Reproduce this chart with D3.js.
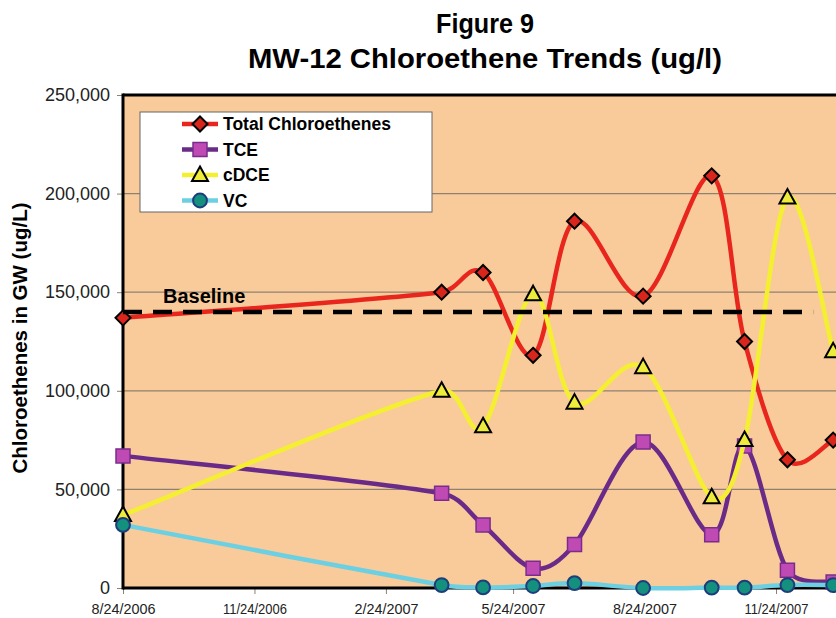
<!DOCTYPE html>
<html>
<head>
<meta charset="utf-8">
<script src="https://cdn.jsdelivr.net/npm/d3@7"></script>
<style>
  body { margin: 0; background: #fff; }
  svg { display: block; font-family: "Liberation Sans", Arial, sans-serif; }
</style>
</head>
<body>
<div id="chart"></div>
<script>
// Sampling dates and series values (ug/L).
var sampleDates = ["8/24/2006", "4/4/2007", "5/3/2007", "6/7/2007", "7/6/2007",
                   "8/23/2007", "10/10/2007", "11/2/2007", "12/2/2007", "1/3/2008"];
var totalValues = [137000, 150000, 160000, 118000, 186000, 148000, 209000, 125000, 65000, 75000];
var tceValues   = [67000, 48000, 32000, 10000, 22000, 74000, 27000, 72000, 9000, 3000];
var cdceValues  = [37000, 100000, 82000, 149000, 94000, 112000, 46000, 75000, 198000, 120000];
var vcValues    = [32000, 1500, 300, 1000, 2500, 0, 200, 200, 1500, 1500];

var baselineDates  = ["8/24/2006", "12/20/2007"];
var baselineValues = [140000, 140000];

var xTickDates = ["8/24/2006", "11/24/2006", "2/24/2007", "5/24/2007", "8/24/2007", "11/24/2007"];
var yTickValues = [0, 50000, 100000, 150000, 200000, 250000];

var seriesNames = ["Total Chloroethenes", "TCE", "cDCE", "VC"];

var width = 836, height = 618;
var plotLeft = 123, plotTop = 95, plotBottom = 588;

var parse = d3.utcParse("%m/%d/%Y");
var fmtDate = d3.utcFormat("%-m/%-d/%Y");

var svg = d3.select("#chart").append("svg")
  .attr("width", width)
  .attr("height", height);

// Scales. The chart runs on past the right edge of the picture.
var x = d3.scaleUtc()
  .domain([parse("8/24/2006"), parse("11/24/2007")])
  .range([plotLeft, 776]);
var y = d3.scaleLinear()
  .domain([0, 250000])
  .range([plotBottom, plotTop]);

// Titles.
svg.append("text")
  .attr("x", 485).attr("y", 33)
  .attr("text-anchor", "middle")
  .attr("font-weight", "bold").attr("font-size", 27)
  .attr("textLength", 98).attr("lengthAdjust", "spacingAndGlyphs")
  .text("Figure 9");
svg.append("text")
  .attr("x", 485).attr("y", 68)
  .attr("text-anchor", "middle")
  .attr("font-weight", "bold").attr("font-size", 27)
  .attr("textLength", 474).attr("lengthAdjust", "spacingAndGlyphs")
  .text("MW-12 Chloroethene Trends (ug/l)");

// Plot area.
svg.append("rect")
  .attr("x", plotLeft).attr("y", plotTop)
  .attr("width", width - plotLeft + 10).attr("height", plotBottom - plotTop)
  .attr("fill", "#f9cb9b");

// Gridlines.
svg.append("g")
  .selectAll("line")
  .data(yTickValues.filter(function (d) { return d > 0 && d < 250000; }))
  .enter().append("line")
  .attr("x1", plotLeft).attr("x2", width)
  .attr("y1", function (d) { return y(d); })
  .attr("y2", function (d) { return y(d); })
  .attr("stroke", "#8f8070").attr("stroke-width", 1.2);

// Y axis.
var yAxis = svg.append("g")
  .attr("transform", "translate(" + plotLeft + ",0)")
  .call(d3.axisLeft(y).tickValues(yTickValues).tickFormat(d3.format(",")).tickSize(6).tickPadding(7));
yAxis.select(".domain").remove();
yAxis.selectAll(".tick line").attr("stroke", "#8f8070");
yAxis.selectAll(".tick text")
  .attr("font-size", 18).attr("fill", "#222")
  .style("font-family", "'Liberation Sans', Arial, sans-serif");

// X axis.
var xAxis = svg.append("g")
  .attr("transform", "translate(0," + plotBottom + ")")
  .call(d3.axisBottom(x).tickValues(xTickDates.map(parse)).tickFormat(fmtDate).tickSize(6).tickPadding(9));
xAxis.select(".domain").remove();
xAxis.selectAll(".tick line").attr("stroke", "#8f8070");
xAxis.selectAll(".tick text")
  .attr("font-size", 15).attr("fill", "#222")
  .attr("textLength", 64).attr("lengthAdjust", "spacingAndGlyphs")
  .style("font-family", "'Liberation Sans', Arial, sans-serif");

// Frame: heavy black left, top and bottom edges.
svg.append("line").attr("x1", plotLeft).attr("x2", plotLeft).attr("y1", plotTop - 1.5).attr("y2", plotBottom + 1.5)
  .attr("stroke", "#000").attr("stroke-width", 3);
svg.append("line").attr("x1", plotLeft).attr("x2", width).attr("y1", plotTop).attr("y2", plotTop)
  .attr("stroke", "#000").attr("stroke-width", 3);
svg.append("line").attr("x1", plotLeft).attr("x2", width).attr("y1", plotBottom).attr("y2", plotBottom)
  .attr("stroke", "#000").attr("stroke-width", 3);

// Y axis title.
svg.append("text")
  .attr("transform", "translate(27,338) rotate(-90)")
  .attr("text-anchor", "middle")
  .attr("font-weight", "bold").attr("font-size", 20.5)
  .text("Chloroethenes in GW (ug/L)");

// Smoothing close to the spreadsheet's "smoothed line": Catmull-Rom handles
// ((next - prev) / 6), shortened where they would overshoot a short segment.
function SmoothCurve(context) { this._context = context; }
SmoothCurve.prototype = {
  areaStart: function () {},
  areaEnd: function () {},
  lineStart: function () { this._pts = []; },
  point: function (px, py) { this._pts.push([+px, +py]); },
  lineEnd: function () {
    var p = this._pts, ctx = this._context, n = p.length;
    if (!n) return;
    ctx.moveTo(p[0][0], p[0][1]);
    function handle(a, b, maxLen) {
      var hx = (b[0] - a[0]) / 6, hy = (b[1] - a[1]) / 6;
      var l = Math.sqrt(hx * hx + hy * hy);
      if (l > maxLen) { hx *= maxLen / l; hy *= maxLen / l; }
      return [hx, hy];
    }
    for (var i = 0; i < n - 1; i++) {
      var p0 = p[i - 1] || p[i], p1 = p[i], p2 = p[i + 1], p3 = p[i + 2] || p[i + 1];
      var dx = p2[0] - p1[0], dy = p2[1] - p1[1];
      var maxLen = Math.sqrt(dx * dx + dy * dy) * 0.4;
      var h1 = handle(p0, p2, maxLen), h2 = handle(p1, p3, maxLen);
      ctx.bezierCurveTo(p1[0] + h1[0], p1[1] + h1[1],
                        p2[0] - h2[0], p2[1] - h2[1],
                        p2[0], p2[1]);
    }
  }
};
function curveSmooth(context) { return new SmoothCurve(context); }

// Series.
var styles = [
  {line: "#e8261e", fill: "#d8261c", stroke: "#000", shape: "diamond"},
  {line: "#6a2a88", fill: "#c04ab4", stroke: "#7a2c8c", shape: "square"},
  {line: "#f4ef30", fill: "#eeec3a", stroke: "#000", shape: "triangle"},
  {line: "#6cd0e2", fill: "#14907e", stroke: "#1d3d7c", shape: "circle"}
];
var allValues = [totalValues, tceValues, cdceValues, vcValues];
var dates = sampleDates.map(parse);

var line = d3.line()
  .x(function (d) { return x(d.date); })
  .y(function (d) { return y(d.value); })
  .curve(curveSmooth);

function markerPath(shape) {
  if (shape === "diamond") return "M0,-7.5L7.5,0L0,7.5L-7.5,0Z";
  if (shape === "square") return "M-7,-7H7V7H-7Z";
  if (shape === "triangle") return "M0,-8.5L8,6L-8,6Z";
  return d3.symbol(d3.symbolCircle, 150)();
}

function drawMarker(g, st, px, py) {
  g.append("path")
    .attr("d", markerPath(st.shape))
    .attr("transform", "translate(" + px + "," + py + ")")
    .attr("fill", st.fill)
    .attr("stroke", st.stroke)
    .attr("stroke-width", st.shape === "square" ? 1.5 : 2);
}

allValues.forEach(function (vals, i) {
  var pts = vals.map(function (v, j) { return {date: dates[j], value: v}; });
  var g = svg.append("g");
  g.append("path")
    .datum(pts)
    .attr("d", line)
    .attr("fill", "none")
    .attr("stroke", styles[i].line)
    .attr("stroke-width", 4.5);
  pts.forEach(function (p) {
    drawMarker(g, styles[i], x(p.date), y(p.value));
  });
});

// Baseline.
var base = baselineDates.map(function (d, j) { return {date: parse(d), value: baselineValues[j]}; });
svg.append("path")
  .datum(base)
  .attr("d", d3.line().x(function (d) { return x(d.date); }).y(function (d) { return y(d.value); }))
  .attr("fill", "none")
  .attr("stroke", "#000")
  .attr("stroke-width", 4.5)
  .attr("stroke-dasharray", "19,11");
svg.append("text")
  .attr("x", 163).attr("y", 303)
  .attr("font-weight", "bold").attr("font-size", 20)
  .text("Baseline");

// Legend.
var legend = svg.append("g");
legend.append("rect")
  .attr("x", 140).attr("y", 112)
  .attr("width", 292).attr("height", 100)
  .attr("fill", "#fff").attr("stroke", "#666").attr("stroke-width", 1);
seriesNames.forEach(function (name, i) {
  var ly = 124 + i * 25.5;
  legend.append("line")
    .attr("x1", 182).attr("x2", 218).attr("y1", ly).attr("y2", ly)
    .attr("stroke", styles[i].line).attr("stroke-width", 4.5);
  drawMarker(legend, styles[i], 200, ly);
  legend.append("text")
    .attr("x", 223).attr("y", ly + 6)
    .attr("font-weight", "bold").attr("font-size", 17.5)
    .text(name);
});
</script>
</body>
</html>
